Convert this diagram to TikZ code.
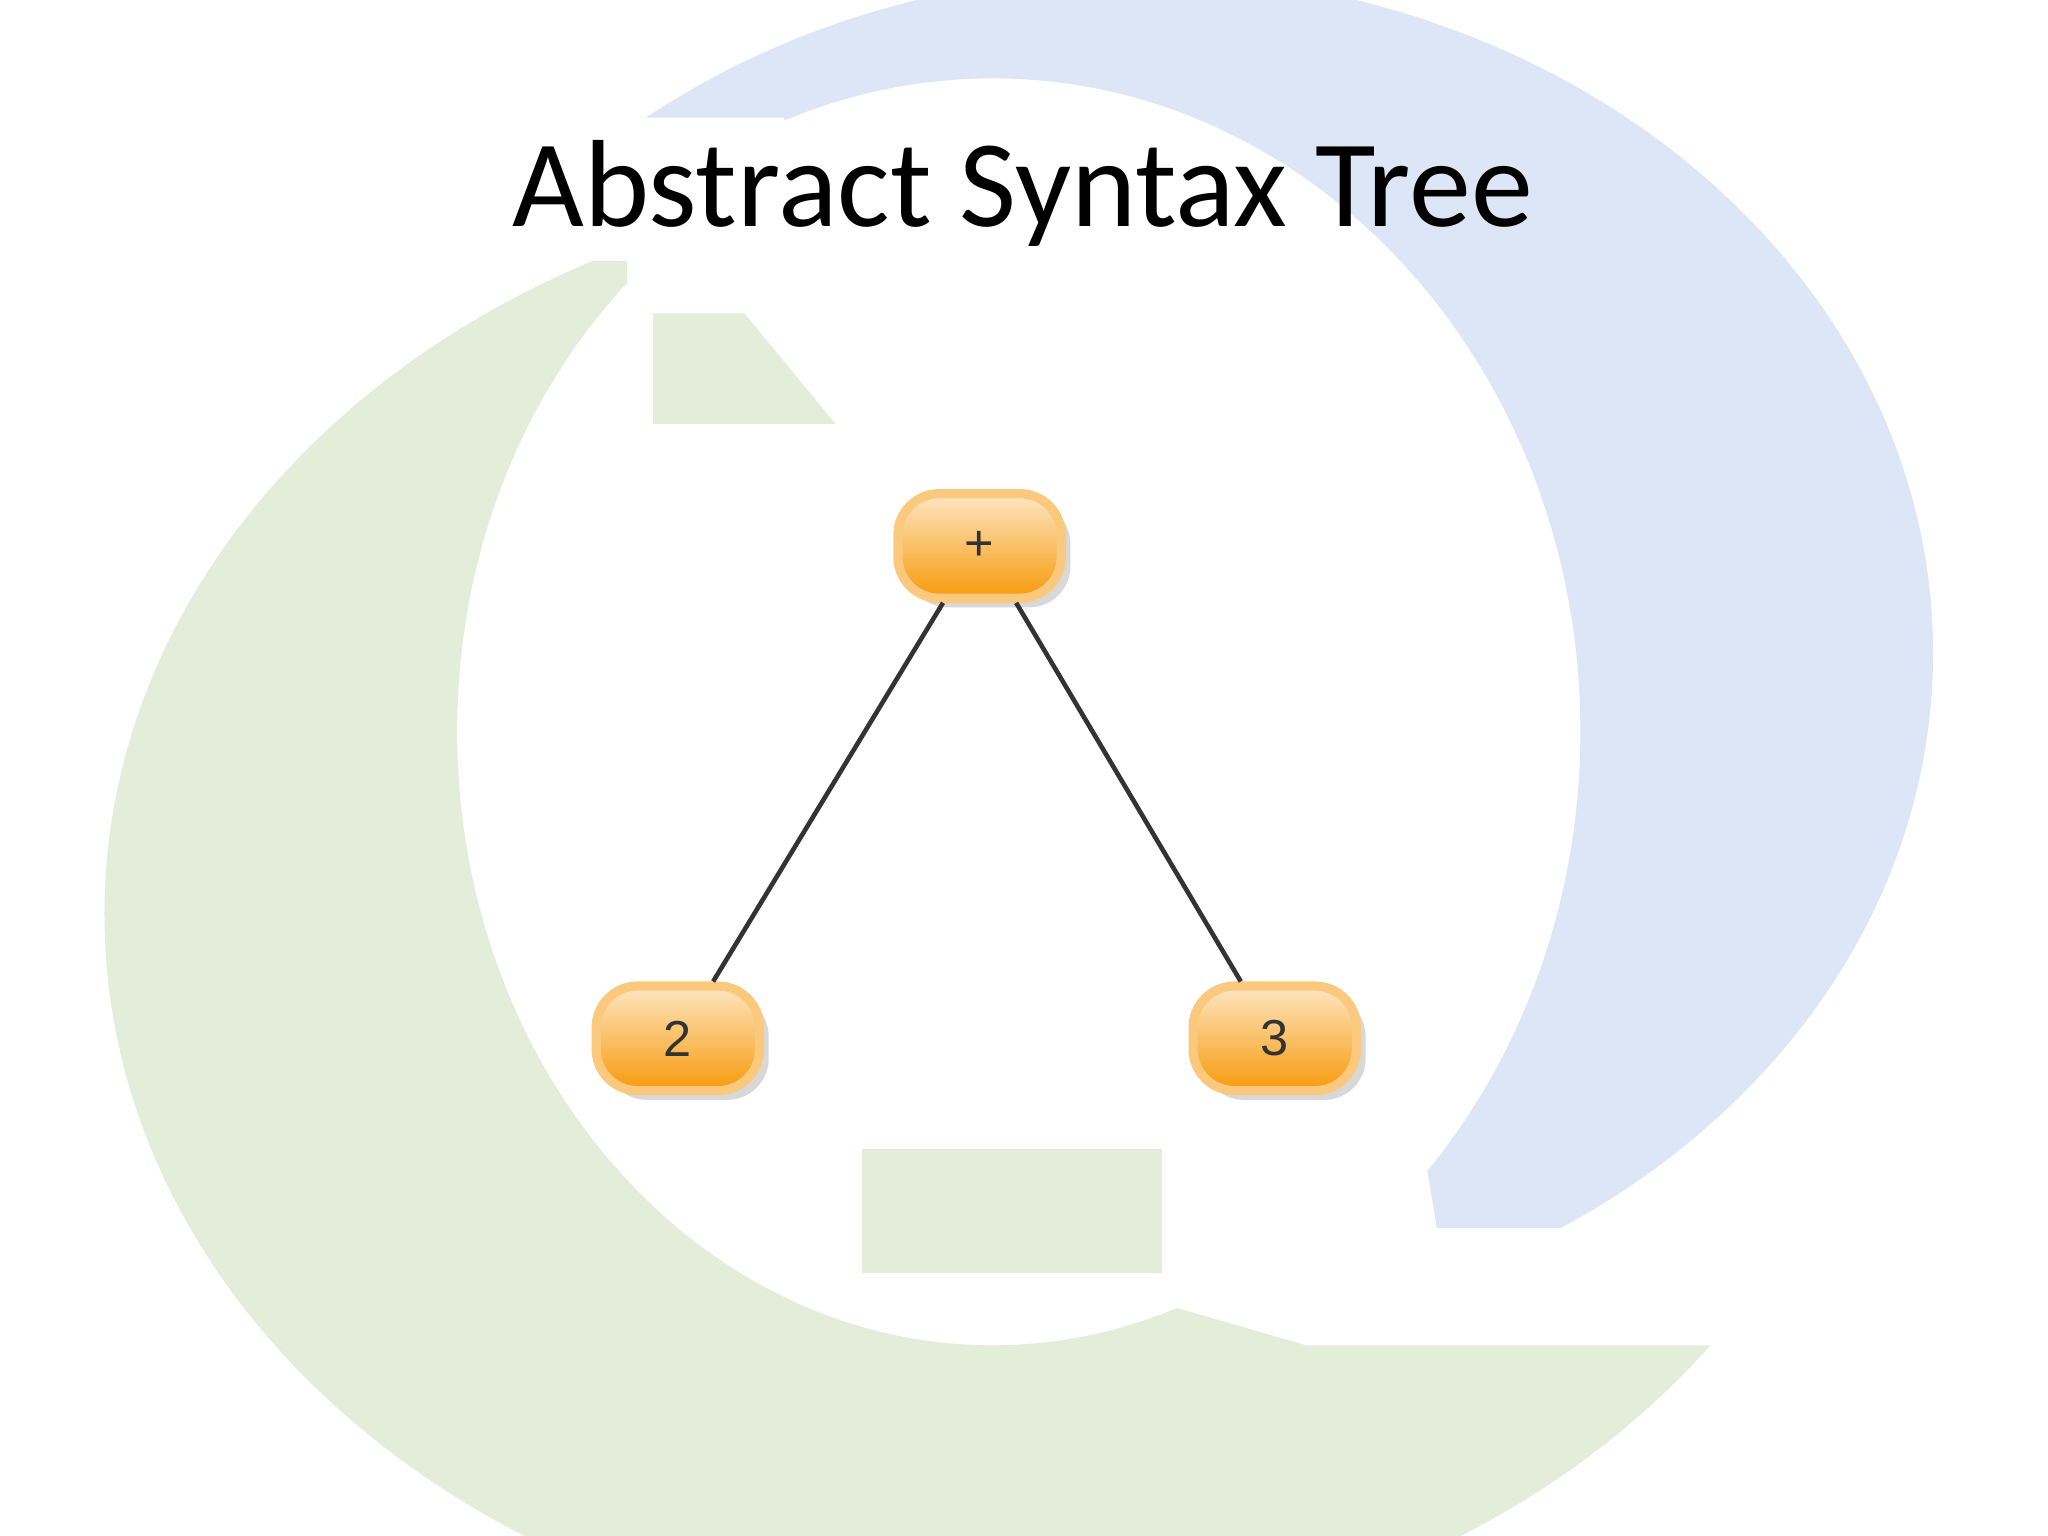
\documentclass[tikz,border=0pt]{standalone}
\usepackage{fontspec}
\setmainfont{Carlito}
\setsansfont{Liberation Sans}
\usetikzlibrary{shadows}
\definecolor{bgblue}{HTML}{DDE6F6}
\definecolor{bggreen}{HTML}{E3EDDA}
\definecolor{org}{HTML}{F79A0A}
\definecolor{orgl}{HTML}{FCD59A}
\tikzset{tnode/.style={draw=orgl!80!org,line width=2pt,rounded corners=9pt,minimum width=1.25cm,minimum height=0.8cm,
  top color=orgl!60!white,bottom color=org,shading angle=0,drop shadow={opacity=0.3,shadow xshift=2pt,shadow yshift=-2pt},font=\sffamily\fontsize{11}{11}\selectfont,text=black!80}}
\begin{document}
\begin{tikzpicture}[x=0.01cm,y=-0.01cm]
\useasboundingbox (0,0) rectangle (1568,1176);
\fill[white] (0,0) rectangle (1568,1176);
% blue ring
\begin{scope}
\clip (230,0) -- (1568,0) -- (1568,940) -- (1100,940) -- (1000,330) -- (700,330) -- (600,90) -- (230,90) -- cycle;
\fill[bgblue,even odd rule] (870,500) ellipse [x radius=610,y radius=520] (760,560) ellipse [x radius=450,y radius=500];
\end{scope}
% green ring
\begin{scope}
\clip (0,200) -- (480,200) -- (480,880) -- (1000,1030) -- (1340,1030) -- (1340,1176) -- (0,1176) -- cycle;
\fill[bggreen,even odd rule] (760,700) ellipse [x radius=680,y radius=560] (760,560) ellipse [x radius=410,y radius=470];
\end{scope}
\fill[bggreen] (660,880) rectangle (890,975);
\fill[bggreen] (500,240) -- (570,240) -- (640,325) -- (500,325) -- cycle;
\fill[white] (490,325) rectangle (1090,880);
\node[font=\fontsize{27}{27}\selectfont] (title) at (783,148) {Abstract Syntax Tree};
\node[tnode] (p) at (750,418) {+};
\node[tnode] (a) at (519,795) {2};
\node[tnode] (b) at (976,795) {3};
\draw[black!80,line width=1pt] (p.south) ++(-28,0) coordinate (p1) (a.north) ++(27,0) coordinate (a1) (p1) -- (a1);
\draw[black!80,line width=1pt] (p.south) ++(28,0) coordinate (p2) (b.north) ++(-26,0) coordinate (b1) (p2) -- (b1);
\end{tikzpicture}
\end{document}
